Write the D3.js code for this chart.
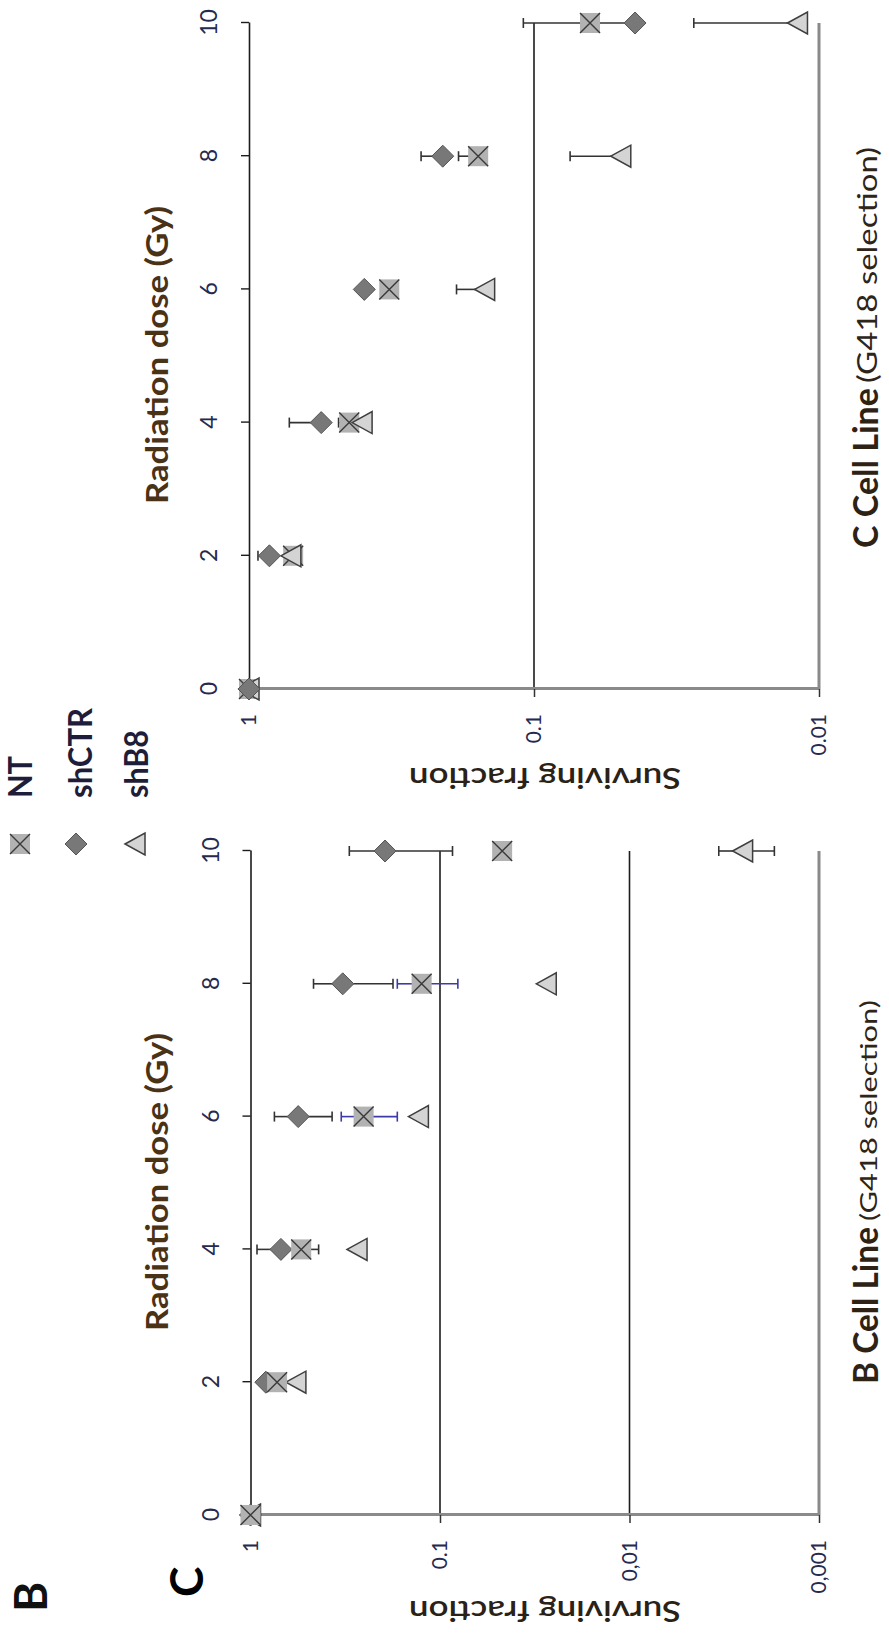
<!DOCTYPE html>
<html><head><meta charset="utf-8">
<script src="https://cdn.jsdelivr.net/npm/d3@7/dist/d3.min.js"></script>
<style>
html,body{margin:0;padding:0;background:#fff;}
svg{display:block;font-family:Lato,"Open Sans",sans-serif;}
</style></head><body>
<svg id="fig" width="889" height="1634"></svg>
<script>
// ---------- data ----------
const doses = [0, 2, 4, 6, 8, 10];
const seriesNames = ["NT", "shCTR", "shB8"];

// Panel C (C Cell Line)
const cNT      = [1, 0.70, 0.445, 0.322, 0.157, 0.0636];
const cNTHi    = [null, null, 0.485, null, 0.184, 0.109];
const cShCTR   = [1, 0.848, 0.558, 0.394, 0.209, 0.0442];
const cShCTRHi = [null, 0.93, 0.722, null, 0.249, 0.066];
const cShB8    = [1, 0.713, 0.401, 0.149, 0.0496, 0.0119];
const cShB8Hi  = [null, null, null, 0.187, 0.0747, 0.0275];
const cTicks = [1, 0.1, 0.01];
const cTickLabels = ["1", "0.1", "0.01"];

// Panel B (B Cell Line)
const bNT      = [1, 0.724, 0.540, 0.253, 0.125, 0.047];
const bNTHi    = [null, null, null, 0.332, 0.168, null];
const bNTLo    = [null, null, 0.437, 0.168, 0.0805, null];
const bShCTR   = [1, 0.83, 0.691, 0.560, 0.326, 0.195];
const bShCTRHi = [null, null, 0.924, 0.748, 0.465, 0.301];
const bShCTRLo = [null, null, null, 0.371, 0.177, 0.0859];
const bShB8    = [1, 0.576, 0.274, 0.130, 0.0275, 0.00253];
const bShB8Hi  = [null, null, null, null, null, 0.00338];
const bShB8Lo  = [null, null, null, null, null, 0.00172];
const bTicks = [1, 0.1, 0.01, 0.001];
const bTickLabels = ["1", "0.1", "0,01", "0,001"];

// ---------- styles ----------
const FONT = "Lato, 'Open Sans', sans-serif";
const tickColor = "#262a4e";
const darkLine = "#1c1c1c";
const grayLine = "#8a8a8a";
const errColor = "#333333";
const blueErr = "#3c3ca6";

const svg = d3.select("#fig");
// the whole figure is laid out in landscape and turned a quarter turn
const root = svg.append("g").attr("transform", "translate(0,1634) rotate(-90)");

function drawMarker(sel, name) {
  if (name === "NT") {
    sel.append("rect").attr("x", -10).attr("y", -10).attr("width", 20).attr("height", 20)
      .attr("fill", "#b2b2b2");
    sel.append("path").attr("d", "M-10,-10L10,10M-10,10L10,-10")
      .attr("stroke", "#3a3a3a").attr("stroke-width", 1.4).attr("fill", "none");
  } else if (name === "shCTR") {
    sel.append("path").attr("d", "M0,-11L11,0L0,11L-11,0Z")
      .attr("fill", "#787878").attr("stroke", "#555").attr("stroke-width", 1);
  } else {
    sel.append("path").attr("d", "M0,-10L11,10L-11,10Z")
      .attr("fill", "#d4d4d4").attr("stroke", "#3e3e3e").attr("stroke-width", 1.5)
      .attr("stroke-linejoin", "miter");
  }
}

function panel(cfg) {
  const x = d3.scaleLinear().domain([0, 10]).range(cfg.xRange);
  const y = d3.scaleLog().domain([1, cfg.ticks[cfg.ticks.length - 1]]).range(cfg.yRange);
  const g = root.append("g");

  // horizontal gridlines (last = plot border, grey)
  const gl = cfg.ticks.slice(1);
  g.selectAll("line.grid").data(gl).join("line").attr("class", "grid")
    .attr("x1", x(0)).attr("x2", x(10))
    .attr("y1", d => y(d)).attr("y2", d => y(d))
    .attr("stroke", (d, i) => i === gl.length - 1 ? grayLine : darkLine)
    .attr("stroke-width", (d, i) => i === gl.length - 1 ? 3 : 1.6);

  // dose axis at value 1
  const xa = g.append("g").attr("transform", `translate(0,${y(1)})`)
    .call(d3.axisTop(x).tickValues(doses).tickSize(8).tickSizeOuter(0).tickPadding(24));
  xa.select(".domain").attr("stroke", darkLine).attr("stroke-width", 1.6);
  xa.selectAll(".tick line").attr("stroke", darkLine).attr("stroke-width", 1.4);
  xa.selectAll(".tick text").attr("font-size", 23).attr("font-family", FONT).attr("fill", tickColor);

  // value axis at dose 0
  const ya = g.append("g").attr("transform", `translate(${x(0)},0)`)
    .call(d3.axisLeft(y).tickValues(cfg.ticks).tickFormat((d, i) => cfg.tickLabels[i])
      .tickSize(8).tickSizeOuter(0).tickPadding(17));
  ya.select(".domain").attr("stroke", grayLine).attr("stroke-width", 3);
  ya.selectAll(".tick line").attr("stroke", "#333").attr("stroke-width", 1.5);
  ya.selectAll(".tick text").attr("font-size", 21).attr("font-family", FONT).attr("fill", tickColor);

  // error bars
  const cap = 5;
  cfg.series.forEach(s => {
    const eg = g.append("g");
    doses.forEach((d, i) => {
      [s.hi ? s.hi[i] : null, s.lo ? s.lo[i] : null].forEach(b => {
        if (b == null) return;
        const col = (s.blueAt && s.blueAt.includes(d)) ? blueErr : errColor;
        eg.append("line").attr("x1", x(d)).attr("x2", x(d))
          .attr("y1", y(s.values[i])).attr("y2", y(b))
          .attr("stroke", col).attr("stroke-width", 1.6);
        eg.append("line").attr("x1", x(d) - cap).attr("x2", x(d) + cap)
          .attr("y1", y(b)).attr("y2", y(b))
          .attr("stroke", col).attr("stroke-width", 1.6);
      });
    });
  });

  // markers (in the panel's drawing order)
  cfg.order.forEach(name => {
    const s = cfg.series.find(t => t.name === name);
    const mg = g.append("g");
    doses.forEach((d, i) => {
      const m = mg.append("g").attr("transform", `translate(${x(d)},${y(s.values[i])})`);
      drawMarker(m, name);
    });
  });

  // axis titles
  g.append("text").attr("x", (cfg.xRange[0] + cfg.xRange[1]) / 2 + 1).attr("y", 168)
    .attr("text-anchor", "middle").attr("font-size", 30).attr("font-weight", 700)
    .attr("font-family", FONT).attr("fill", "#4a3216")
    .attr("textLength", 298).attr("lengthAdjust", "spacingAndGlyphs")
    .text("Radiation dose (Gy)");

  g.append("text").attr("transform", `translate(${cfg.survX},545) rotate(-90)`)
    .attr("text-anchor", "middle").attr("font-size", 28).attr("font-weight", 600)
    .attr("font-family", FONT).attr("fill", "#2a2216")
    .attr("textLength", 272).attr("lengthAdjust", "spacingAndGlyphs")
    .text("Surviving fraction");

  // panel title
  g.append("text").attr("x", cfg.title.x1).attr("y", 878)
    .attr("font-size", 35).attr("font-weight", 700).attr("font-family", FONT).attr("fill", "#2e2214")
    .attr("textLength", cfg.title.len1).attr("lengthAdjust", "spacingAndGlyphs")
    .text(cfg.title.main);
  g.append("text").attr("x", cfg.title.x2).attr("y", 877)
    .attr("font-size", cfg.title.size2).attr("font-family", FONT).attr("fill", "#2e2418")
    .attr("textLength", cfg.title.len2).attr("lengthAdjust", "spacingAndGlyphs")
    .text("(G418 selection)");
}

panel({
  xRange: [945, 1611], yRange: [249, 819], ticks: cTicks, tickLabels: cTickLabels,
  series: [
    { name: "NT", values: cNT, hi: cNTHi },
    { name: "shCTR", values: cShCTR, hi: cShCTRHi },
    { name: "shB8", values: cShB8, hi: cShB8Hi }
  ],
  order: ["NT", "shB8", "shCTR"],
  survX: 866,
  title: { main: "C Cell Line", x1: 1086, len1: 160, x2: 1251, len2: 236, size2: 27 }
});

panel({
  xRange: [119, 783], yRange: [250.5, 819], ticks: bTicks, tickLabels: bTickLabels,
  series: [
    { name: "NT", values: bNT, hi: bNTHi, lo: bNTLo, blueAt: [6, 8] },
    { name: "shCTR", values: bShCTR, hi: bShCTRHi, lo: bShCTRLo },
    { name: "shB8", values: bShB8, hi: bShB8Hi, lo: bShB8Lo }
  ],
  order: ["shB8", "shCTR", "NT"],
  survX: 33,
  title: { main: "B Cell Line", x1: 250, len1: 157, x2: 413, len2: 221, size2: 24 }
});

// legend
const legY = [20, 76, 135];
const legBase = [32, 92, 148];
const legLen = [42, 90, 68];
const leg = root.append("g");
seriesNames.forEach((n, i) => {
  const m = leg.append("g").attr("transform", `translate(790,${legY[i]})`);
  drawMarker(m, n);
  leg.append("text").attr("x", 836).attr("y", legBase[i])
    .attr("font-size", 32).attr("font-weight", 700).attr("font-family", FONT).attr("fill", "#1e1e3a")
    .attr("textLength", legLen[i]).attr("lengthAdjust", "spacingAndGlyphs")
    .text(n);
});

// panel letters
root.append("text").attr("x", 22).attr("y", 47).attr("font-size", 46).attr("font-weight", 700)
  .attr("font-family", FONT).attr("fill", "#111").text("B");
root.append("text").attr("x", 37).attr("y", 203).attr("font-size", 46).attr("font-weight", 700)
  .attr("font-family", FONT).attr("fill", "#000").text("C");
</script>
</body></html>
